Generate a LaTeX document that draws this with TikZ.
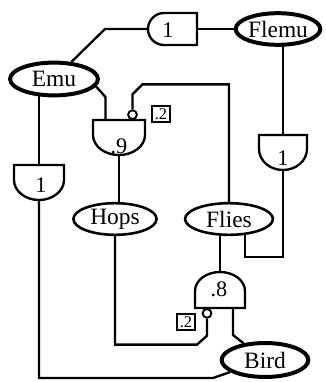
\documentclass[tikz,border=0pt]{standalone}
\usepackage{fontspec}
\setmainfont{Liberation Serif}
\usepackage{tikz}
\usetikzlibrary{shapes.geometric,backgrounds}

% D-shaped gate: name, flat-edge midpoint, rotation, half width, straight part, arc depth, input offset
\newcommand\dgate[7]{%
  \begin{scope}[shift={(#2)},rotate=#3]
    \draw[gate] (-#4,0) -- (#4,0) -- (#4,#5) arc[start angle=0,end angle=180,x radius=#4,y radius=#6] -- cycle;
    \coordinate (#1-f) at (0,0);
    \coordinate (#1-o) at (0,#5+#6);
    \coordinate (#1-a) at (-#7,0);
    \coordinate (#1-b) at (#7,0);
  \end{scope}}

\begin{document}
\begin{tikzpicture}[x=0.03cm,y=-0.03cm,
    wire/.style={line width=2pt},
    gate/.style={line width=2pt,fill=white},
    fact/.style={ellipse,draw,fill=white,line width=3.4pt,inner sep=0pt,font=\fontsize{20}{20}\selectfont},
    plain/.style={fact,line width=2.2pt},
    glabel/.style={font=\fontsize{19}{19}\selectfont,inner sep=0pt},
    neg/.style={circle,draw,fill=white,line width=1.6pt,minimum size=7.5pt,inner sep=0pt},
    prob/.style={draw,line width=2pt,minimum width=15pt,minimum height=14pt,inner sep=0pt,font=\fontsize{14}{14}\selectfont}]
            \useasboundingbox (0,0) rectangle (325,382);

            % facts
            \node[fact,minimum width=75pt,minimum height=28pt] (emu) at (54,79) {Emu};
            \node[fact,minimum width=68pt,minimum height=27pt] (flemu) at (278,29) {Flemu};
            \node[fact,minimum width=74pt,minimum height=29pt] (bird) at (265,360) {Bird};
            \node[plain,minimum width=71pt,minimum height=27pt] (hops) at (115,219) {Hops};
            \node[plain,minimum width=75pt,minimum height=27pt] (flies) at (229,219) {Flies};

            % gates
            \dgate{gt}{197,29}{-90}{16}{33}{16}{0}
            \dgate{gl}{39,165}{0}{25}{15}{20}{0}
            \dgate{g9}{119,120}{0}{26}{15}{20}{13.5}
            \dgate{gr}{283,135}{0}{24}{14}{21}{0}
            \dgate{g8}{220,308}{180}{25}{17}{19}{13}
            \node[glabel] (lt) at (168,30) {1};
            \node[glabel] (ll) at (41,185) {1};
            \node[glabel] (l9) at (119,146) {.9};
            \node[glabel] (lr) at (283,158) {1};
            \node[glabel] (l8) at (219,289) {.8};

            % negated inputs
            \node[neg,anchor=south] (n9) at (g9-b) {};
            \node[neg,anchor=north] (n8) at (g8-b) {};
            \node[prob] (p9) at (161,114) {.2};
            \node[prob] (p8) at (186,322) {.2};

            % wires
            \begin{scope}[on background layer]
              \draw[wire] (gt-o) -- ++(-43,0) -- (emu);
              \draw[wire] (flemu) -- (gt-f);
              \draw[wire] (gl-f) -- (gl-f |- emu.center);
              \draw[wire] (g9-a) -- ++(0,-23) -- (emu.-10);
              \draw[wire] (n9.north) -- ++(0,-15) -- ++(10,-10) -| (flies);
              \draw[wire] (g9-o) -- (g9-o |- hops.center);
              \draw[wire] (gr-f) -- (gr-f |- flemu.center);
              \draw[wire] (gr-o) -- ++(0,87) -- ++(-38,0) -- ++(0,-30);
              \draw[wire] (g8-o) -- (g8-o |- flies.center);
              \draw[wire] (n8.south) -- ++(0,17) -- ++(-10,9) -| (hops);
              \draw[wire] (g8-a) -- ++(0,27) -- (bird);
              \draw[wire] (gl-o) |- ++(174,178) -- (bird);
            \end{scope}
\end{tikzpicture}
\end{document}
